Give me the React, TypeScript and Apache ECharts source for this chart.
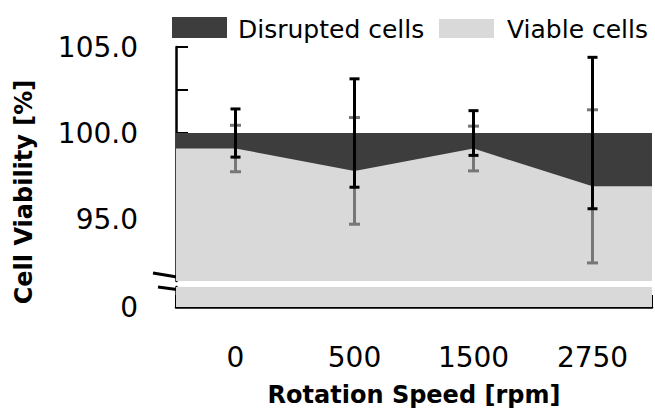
import React, { useEffect, useRef } from "react";
import * as echarts from "echarts";

const categories = ["0", "500", "1500", "2750"];
const viable = [99.1, 97.8, 99.1, 96.9];
const disrupted = [0.9, 2.2, 0.9, 3.1];
const viableErr = [1.35, 3.1, 1.3, 4.45];
const totalErr = [1.4, 3.15, 1.3, 4.4];
const yTopTicks = [92.5, 95, 97.5, 100, 102.5, 105];
const yTopLabels = [95, 100, 105];
const yBottomLabels = [0];

const DARK = "#3d3d3d";
const LIGHT = "#d9d9d9";
const GRAY_ERR = "#777777";
const FONT = "'DejaVu Sans', 'Noto Sans', sans-serif";

export default function App() {
  const ref = useRef<HTMLDivElement>(null);

  useEffect(() => {
    document.body.style.margin = "0";
    if (!ref.current) return;
    const chart = echarts.init(ref.current, null, { renderer: "svg" });

    const total = viable.map((v, i) => +(v + disrupted[i]).toFixed(2));
    // extend each series flat to both category edges
    const ext = (vals: number[]) => {
      const pts: number[][] = [[-0.5, vals[0]]];
      vals.forEach((v, i) => pts.push([i, v]));
      pts.push([vals.length - 0.5, vals[vals.length - 1]]);
      return pts;
    };
    const errData = (centers: number[], errs: number[]) =>
      centers.map((c, i) => [i, c - errs[i], c + errs[i]]);

    const errRender = (color: string, half: number) => (params: any, api: any) => {
      const x = api.value(0);
      const lo = api.coord([x, api.value(1)]);
      const hi = api.coord([x, api.value(2)]);
      const style = { stroke: color, lineWidth: 3 };
      return {
        type: "group",
        children: [
          { type: "line", shape: { x1: lo[0], y1: lo[1], x2: hi[0], y2: hi[1] }, style },
          { type: "line", shape: { x1: lo[0] - half, y1: lo[1], x2: lo[0] + half, y2: lo[1] }, style },
          { type: "line", shape: { x1: hi[0] - half, y1: hi[1], x2: hi[0] + half, y2: hi[1] }, style },
        ],
      };
    };

    const areaSeries = (name: string, data: number[][], color: string, xi: number, yi: number, z: number) => ({
      name,
      type: "line",
      xAxisIndex: xi,
      yAxisIndex: yi,
      data,
      symbol: "none",
      lineStyle: { width: 0 },
      areaStyle: { color, opacity: 1, origin: "start" },
      clip: true,
      z,
      silent: true,
    });

    const n = categories.length;

    chart.setOption({
      animation: false,
      textStyle: { fontFamily: FONT },
      grid: [
        { left: 176, top: 47, width: 476, height: 234 },
        { left: 176, top: 287, width: 476, height: 20 },
      ],
      xAxis: [
        { type: "value", gridIndex: 0, min: -0.5, max: n - 0.5, show: false, position: "bottom" },
        { type: "value", gridIndex: 1, min: -0.5, max: n - 0.5, show: false, position: "bottom" },
        {
          type: "category",
          gridIndex: 1,
          position: "bottom",
          data: categories,
          boundaryGap: true,
          axisLine: { show: true, onZero: false, lineStyle: { color: "#000", width: 2.5 } },
          axisTick: { show: true, inside: true, length: 12, interval: 0, lineStyle: { color: "#000", width: 2 } },
          axisLabel: { color: "#000", fontSize: 28, margin: 36, fontFamily: FONT },
          splitLine: { show: false },
          name: "Rotation Speed [rpm]",
          nameLocation: "middle",
          nameGap: 76,
          nameTextStyle: { color: "#000", fontSize: 24, fontWeight: "bold", fontFamily: FONT },
        },
      ],
      yAxis: [
        {
          type: "value",
          gridIndex: 0,
          min: 91.4,
          max: 105,
          axisLine: { show: true, onZero: false, lineStyle: { color: "#000", width: 2.5 } },
          axisTick: {
            show: true,
            inside: true,
            length: 12,
            customValues: yTopTicks,
            lineStyle: { color: "#000", width: 2 },
          },
          axisLabel: {
            color: "#000",
            fontSize: 28,
            margin: 38,
            customValues: yTopLabels,
            formatter: (v: number) => v.toFixed(1),
            fontFamily: FONT,
          },
          splitLine: { show: false },
        },
        {
          type: "value",
          gridIndex: 1,
          min: 0,
          max: 1.2,
          axisLine: { show: true, onZero: false, lineStyle: { color: "#000", width: 2.5 } },
          axisTick: { show: false },
          axisLabel: {
            color: "#000",
            fontSize: 28,
            margin: 38,
            customValues: yBottomLabels,
            formatter: (v: number) => String(v),
            fontFamily: FONT,
          },
          splitLine: { show: false },
        },
      ],
      series: [
        areaSeries("Disrupted cells", ext(total), DARK, 0, 0, 1),
        areaSeries("Viable cells", ext(viable), LIGHT, 0, 0, 2),
        areaSeries("Viable cells (low)", ext(viable), LIGHT, 1, 1, 2),
        {
          name: "Viable cells SD",
          type: "custom",
          xAxisIndex: 0,
          yAxisIndex: 0,
          data: errData(viable, viableErr),
          encode: { x: 0, y: [1, 2] },
          renderItem: errRender(GRAY_ERR, 5.5),
          z: 3,
          silent: true,
        },
        {
          name: "Total SD",
          type: "custom",
          xAxisIndex: 0,
          yAxisIndex: 0,
          data: errData(total, totalErr),
          encode: { x: 0, y: [1, 2] },
          renderItem: errRender("#000", 5),
          z: 4,
          silent: true,
        },
      ],
      graphic: [
        { type: "rect", shape: { x: 172, y: 17, width: 55, height: 21 }, style: { fill: DARK } },
        {
          type: "text",
          x: 238,
          y: 29,
          style: { text: "Disrupted cells", fill: "#000", font: `25px ${FONT}`, verticalAlign: "middle", align: "left" },
        },
        { type: "rect", shape: { x: 439, y: 19, width: 55, height: 19 }, style: { fill: LIGHT } },
        {
          type: "text",
          x: 507,
          y: 29,
          style: { text: "Viable cells", fill: "#000", font: `25px ${FONT}`, verticalAlign: "middle", align: "left" },
        },
        {
          type: "text",
          x: 24,
          y: 192,
          rotation: Math.PI / 2,
          style: {
            text: "Cell Viability [%]",
            fill: "#000",
            font: `bold 24px ${FONT}`,
            align: "center",
            verticalAlign: "middle",
          },
        },
        { type: "line", shape: { x1: 153, y1: 273, x2: 183, y2: 278 }, style: { stroke: "#000", lineWidth: 3 } },
        { type: "line", shape: { x1: 158, y1: 287, x2: 188, y2: 291 }, style: { stroke: "#000", lineWidth: 3 } },
      ],
    });

    return () => chart.dispose();
  }, []);

  return <div ref={ref} style={{ width: 655, height: 413 }} />;
}
